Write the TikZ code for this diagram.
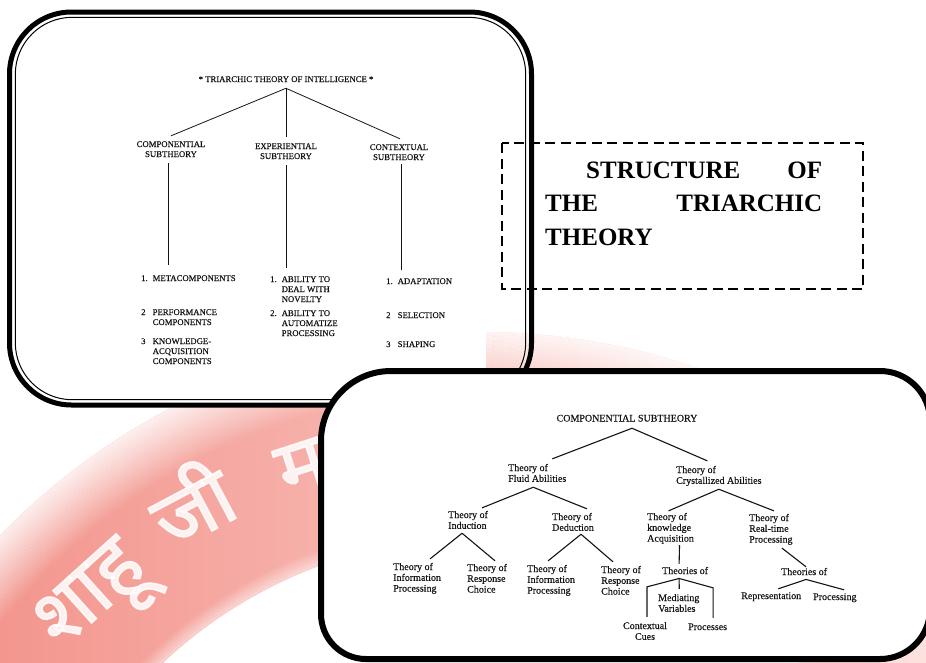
\documentclass[tikz,border=0pt]{standalone}
\usepackage{fontspec}
\setmainfont{Liberation Serif}
\newfontfamily\scanfont[FakeBold=0.35]{Liberation Serif}
\newfontfamily\devfont[Script=Devanagari,FakeBold=2]{Noto Sans}
\usetikzlibrary{calc}

\definecolor{bandL}{RGB}{243,150,142}
\definecolor{bandM}{RGB}{248,194,188}
\definecolor{bandR}{RGB}{252,226,222}
\definecolor{ink}{RGB}{20,20,20}

% stacked lines, first baseline is the node baseline
\newcommand\stk[2][l]{\begin{tabular}[t]{@{}#1@{}}#2\end{tabular}}
% numbered entry with a hanging indent
\newcommand\nitem[2]{\begin{tabular}[t]{@{}l@{}l@{}}\makebox[11.5pt][l]{#1}&#2\end{tabular}}

\begin{document}
\begin{tikzpicture}[x=1pt,y=-1pt,
  scantop/.style={font=\scanfont\fontsize{8.7}{10}\selectfont, inner sep=0pt, text=ink},
  scanbot/.style={font=\scanfont\fontsize{10}{10.8}\selectfont, inner sep=0pt, text=ink},
  branch/.style={line width=0.8pt, draw=ink},
  wmark/.style={font=\devfont\fontsize{80}{80}\selectfont, text=white, opacity=0.85, inner sep=0pt},
  frameout/.style={line width=5pt, draw=black},
  framein/.style={line width=1pt, draw=black},
  panel/.style={line width=6pt, draw=black, fill=white},
  headbox/.style={line width=2.2pt, dash pattern=on 10pt off 5.5pt, draw=black},
]
\useasboundingbox (0,0) rectangle (926,662);
\fill[white] (0,0) rectangle (926,662);

% watermark band, its rims fading into the page
\begin{scope}
  \clip (0,0) rectangle (926,662);
  \begin{scope}[even odd rule]
    \clip (481,1002) circle[radius=670] (481,1002) circle[radius=465];
    \shade[left color=bandL, middle color=bandM, right color=bandR] (0,300) rectangle (926,662);
    \foreach \i in {0,...,23} {
      \pgfmathsetmacro\rr{612+2.5*\i}
      \pgfmathsetmacro\oo{0.02+0.035*\i}
      \draw[white, line width=2.7pt, opacity=\oo] (481,1002) circle[radius=\rr];
    }
    \foreach \i in {0,...,5} {
      \pgfmathsetmacro\rr{466+2.5*\i}
      \pgfmathsetmacro\oo{0.45-0.075*\i}
      \draw[white, line width=2.7pt, opacity=\oo] (481,1002) circle[radius=\rr];
    }
  \end{scope}
\end{scope}
\node[wmark, rotate=42] (wm1) at (97,602) {शाहू};
\node[wmark, rotate=28] (wm2) at (190,502) {जी};
\node[wmark, rotate=18] (wm3) at (302,468) {म};

% ---------- upper panel: the triarchic theory ----------
\fill[white] (9.5,12) rectangle (486,405);
\draw[frameout, rounded corners=62] (9.5,12) rectangle (531.5,405);
\draw[framein, rounded corners=57] (15.3,17.3) rectangle (525.7,399.7);

\node[scantop, anchor=base] (tt) at (286,82) {* TRIARCHIC THEORY OF INTELLIGENCE *};
\node[scantop, anchor=base] (cs) at (171,147) {\stk[c]{COMPONENTIAL\\SUBTHEORY}};
\node[scantop, anchor=base] (es) at (286,149) {\stk[c]{EXPERIENTIAL\\SUBTHEORY}};
\node[scantop, anchor=base] (xs) at (399,150) {\stk[c]{CONTEXTUAL\\SUBTHEORY}};

\node[scantop, anchor=base west] (m1) at (141,281) {\nitem{1.}{METACOMPONENTS}};
\node[scantop, anchor=base west] (m2) at (141,315) {\nitem{2}{PERFORMANCE\\&COMPONENTS}};
\node[scantop, anchor=base west] (m3) at (141,344) {\nitem{3}{KNOWLEDGE-\\&ACQUISITION\\&COMPONENTS}};
\node[scantop, anchor=base west] (a1) at (270,282) {\nitem{1.}{ABILITY TO\\&DEAL WITH\\&NOVELTY}};
\node[scantop, anchor=base west] (a2) at (270,316) {\nitem{2.}{ABILITY TO\\&AUTOMATIZE\\&PROCESSING}};
\node[scantop, anchor=base west] (r1) at (386,284) {\nitem{1.}{ADAPTATION}};
\node[scantop, anchor=base west] (r2) at (386,318) {\nitem{2}{SELECTION}};
\node[scantop, anchor=base west] (r3) at (386,347) {\nitem{3}{SHAPING}};

\draw[branch] ($(tt.south)+(0,6)$) -- ($(cs.north)+(0,-4)$);
\draw[branch] ($(tt.south)+(0,6)$) -- ($(es.north)+(0,-5)$);
\draw[branch] ($(tt.south)+(0,6)$) -- ($(xs.north)+(1,-4)$);
\draw[branch] ($(cs.south)+(-3,3)$) -- ($(cs.south |- m1.north)+(-3,-9)$);
\draw[branch] ($(es.south)+(0,3)$) -- ($(es.south |- a1.north)+(0,-7)$);
\draw[branch] ($(xs.south)+(2,1)$) -- ($(xs.south |- r1.north)+(2,-7)$);

% heading box
\draw[headbox] (502,143) rectangle (863,289);
\node[anchor=north west, inner sep=0pt, text width=277pt, align=justify,
      font=\bfseries\fontsize{25}{33.5}\selectfont] (head) at (545,161.5)
  {\tolerance=10000\parindent=41pt\indent \mbox{STRUCTURE} \mbox{OF} \mbox{THE} \mbox{TRIARCHIC} \mbox{THEORY}};

% ---------- lower panel: the componential subtheory ----------
\draw[panel] (321,515) [rounded corners=70] -- (321,371) [rounded corners=50] -- (930,371)
  -- (930,659) [rounded corners=45] -- (321,659) -- cycle;

\node[scanbot, anchor=base] (cst) at (627,421.5) {\stk{COMPONENTIAL SUBTHEORY}};
\node[scanbot, anchor=base west] (fl) at (508,471) {\stk{Theory of\\Fluid Abilities}};
\node[scanbot, anchor=base west] (cr) at (676,473) {\stk{Theory of\\Crystallized Abilities}};
\node[scanbot, anchor=base west] (in) at (448,518) {\stk{Theory of\\Induction}};
\node[scanbot, anchor=base west] (de) at (552,520) {\stk{Theory of\\Deduction}};
\node[scanbot, anchor=base west] (kn) at (647,520) {\stk{Theory of\\knowledge\\Acquisition}};
\node[scanbot, anchor=base west] (rt) at (749,521) {\stk{Theory of\\Real-time\\Processing}};
\node[scanbot, anchor=base west] (ip1) at (393,570) {\stk{Theory of\\Information\\Processing}};
\node[scanbot, anchor=base west] (rc1) at (467,571) {\stk{Theory of\\Response\\Choice}};
\node[scanbot, anchor=base west] (ip2) at (527,572) {\stk{Theory of\\Information\\Processing}};
\node[scanbot, anchor=base west] (rc2) at (601,573) {\stk{Theory of\\Response\\Choice}};
\node[scanbot, anchor=base west] (tk) at (662,574) {\stk{Theories of}};
\node[scanbot, anchor=base west] (tr) at (781,575) {\stk{Theories of}};
\node[scanbot, anchor=base west] (mv) at (658,601) {\stk{Mediating\\Variables}};
\node[scanbot, anchor=base] (cc) at (645,629) {\stk[c]{Contextual\\Cues}};
\node[scanbot, anchor=base west] (pr) at (688,630) {\stk{Processes}};
\node[scanbot, anchor=base west] (rep) at (741,599) {\stk{Representation}};
\node[scanbot, anchor=base west] (pro) at (813,600) {\stk{Processing}};

\begin{scope}[branch, line width=1.1pt]
\draw ($(cst.south)+(5,3.3)$) -- ($(fl.north)+(15,-4.4)$);
\draw ($(cst.south)+(5,3.3)$) -- ($(cr.north)+(-11.5,-4.4)$);
\draw ($(fl.south)+(-4,2)$) -- ($(in.north)+(14,-2.4)$);
\draw ($(fl.south)+(-4,2)$) -- ($(de.north)+(14,-3.4)$);
\draw ($(cr.south)+(0,2)$) -- ($(kn.north)+(-2,-1.4)$);
\draw ($(cr.south)+(0,2)$) -- ($(rt.north)+(3,-2.4)$);
\draw ($(in.south)+(-6,1)$) -- ($(ip1.north)+(13,-3.4)$);
\draw ($(in.south)+(-6,1)$) -- ($(rc1.north)+(8,-2.4)$);
\draw ($(de.south)+(8,0)$) -- ($(ip2.north)+(-3,-3.4)$);
\draw ($(de.south)+(8,0)$) -- ($(rc2.north)+(-8,-3.4)$);
\draw ($(kn.south)+(9,0)$) -- ($(tk.north)+(-6,-2.4)$);
\draw ($(rt.south)+(11,2)$) -- ($(tr.north)+(2,-0.4)$);
\draw ($(tk.south)+(-6,1)$) -- ($(cc.north)+(2,-34.4)$) -- ($(cc.north)+(2,-4.4)$);
\draw ($(tk.south)+(-6,1)$) -- ($(mv.north)+(0.5,-4.4)$);
\draw ($(tk.south)+(-6,1)$) -- ($(pr.north)+(5.5,-34.4)$) -- ($(pr.north)+(5.5,-4.4)$);
\draw ($(tr.south)+(2,1)$) -- ($(rep.north)+(7,-2.4)$);
\draw ($(tr.south)+(2,1)$) -- ($(pro.north)+(9.3,-2.4)$);
\end{scope}
\end{tikzpicture}
\end{document}
